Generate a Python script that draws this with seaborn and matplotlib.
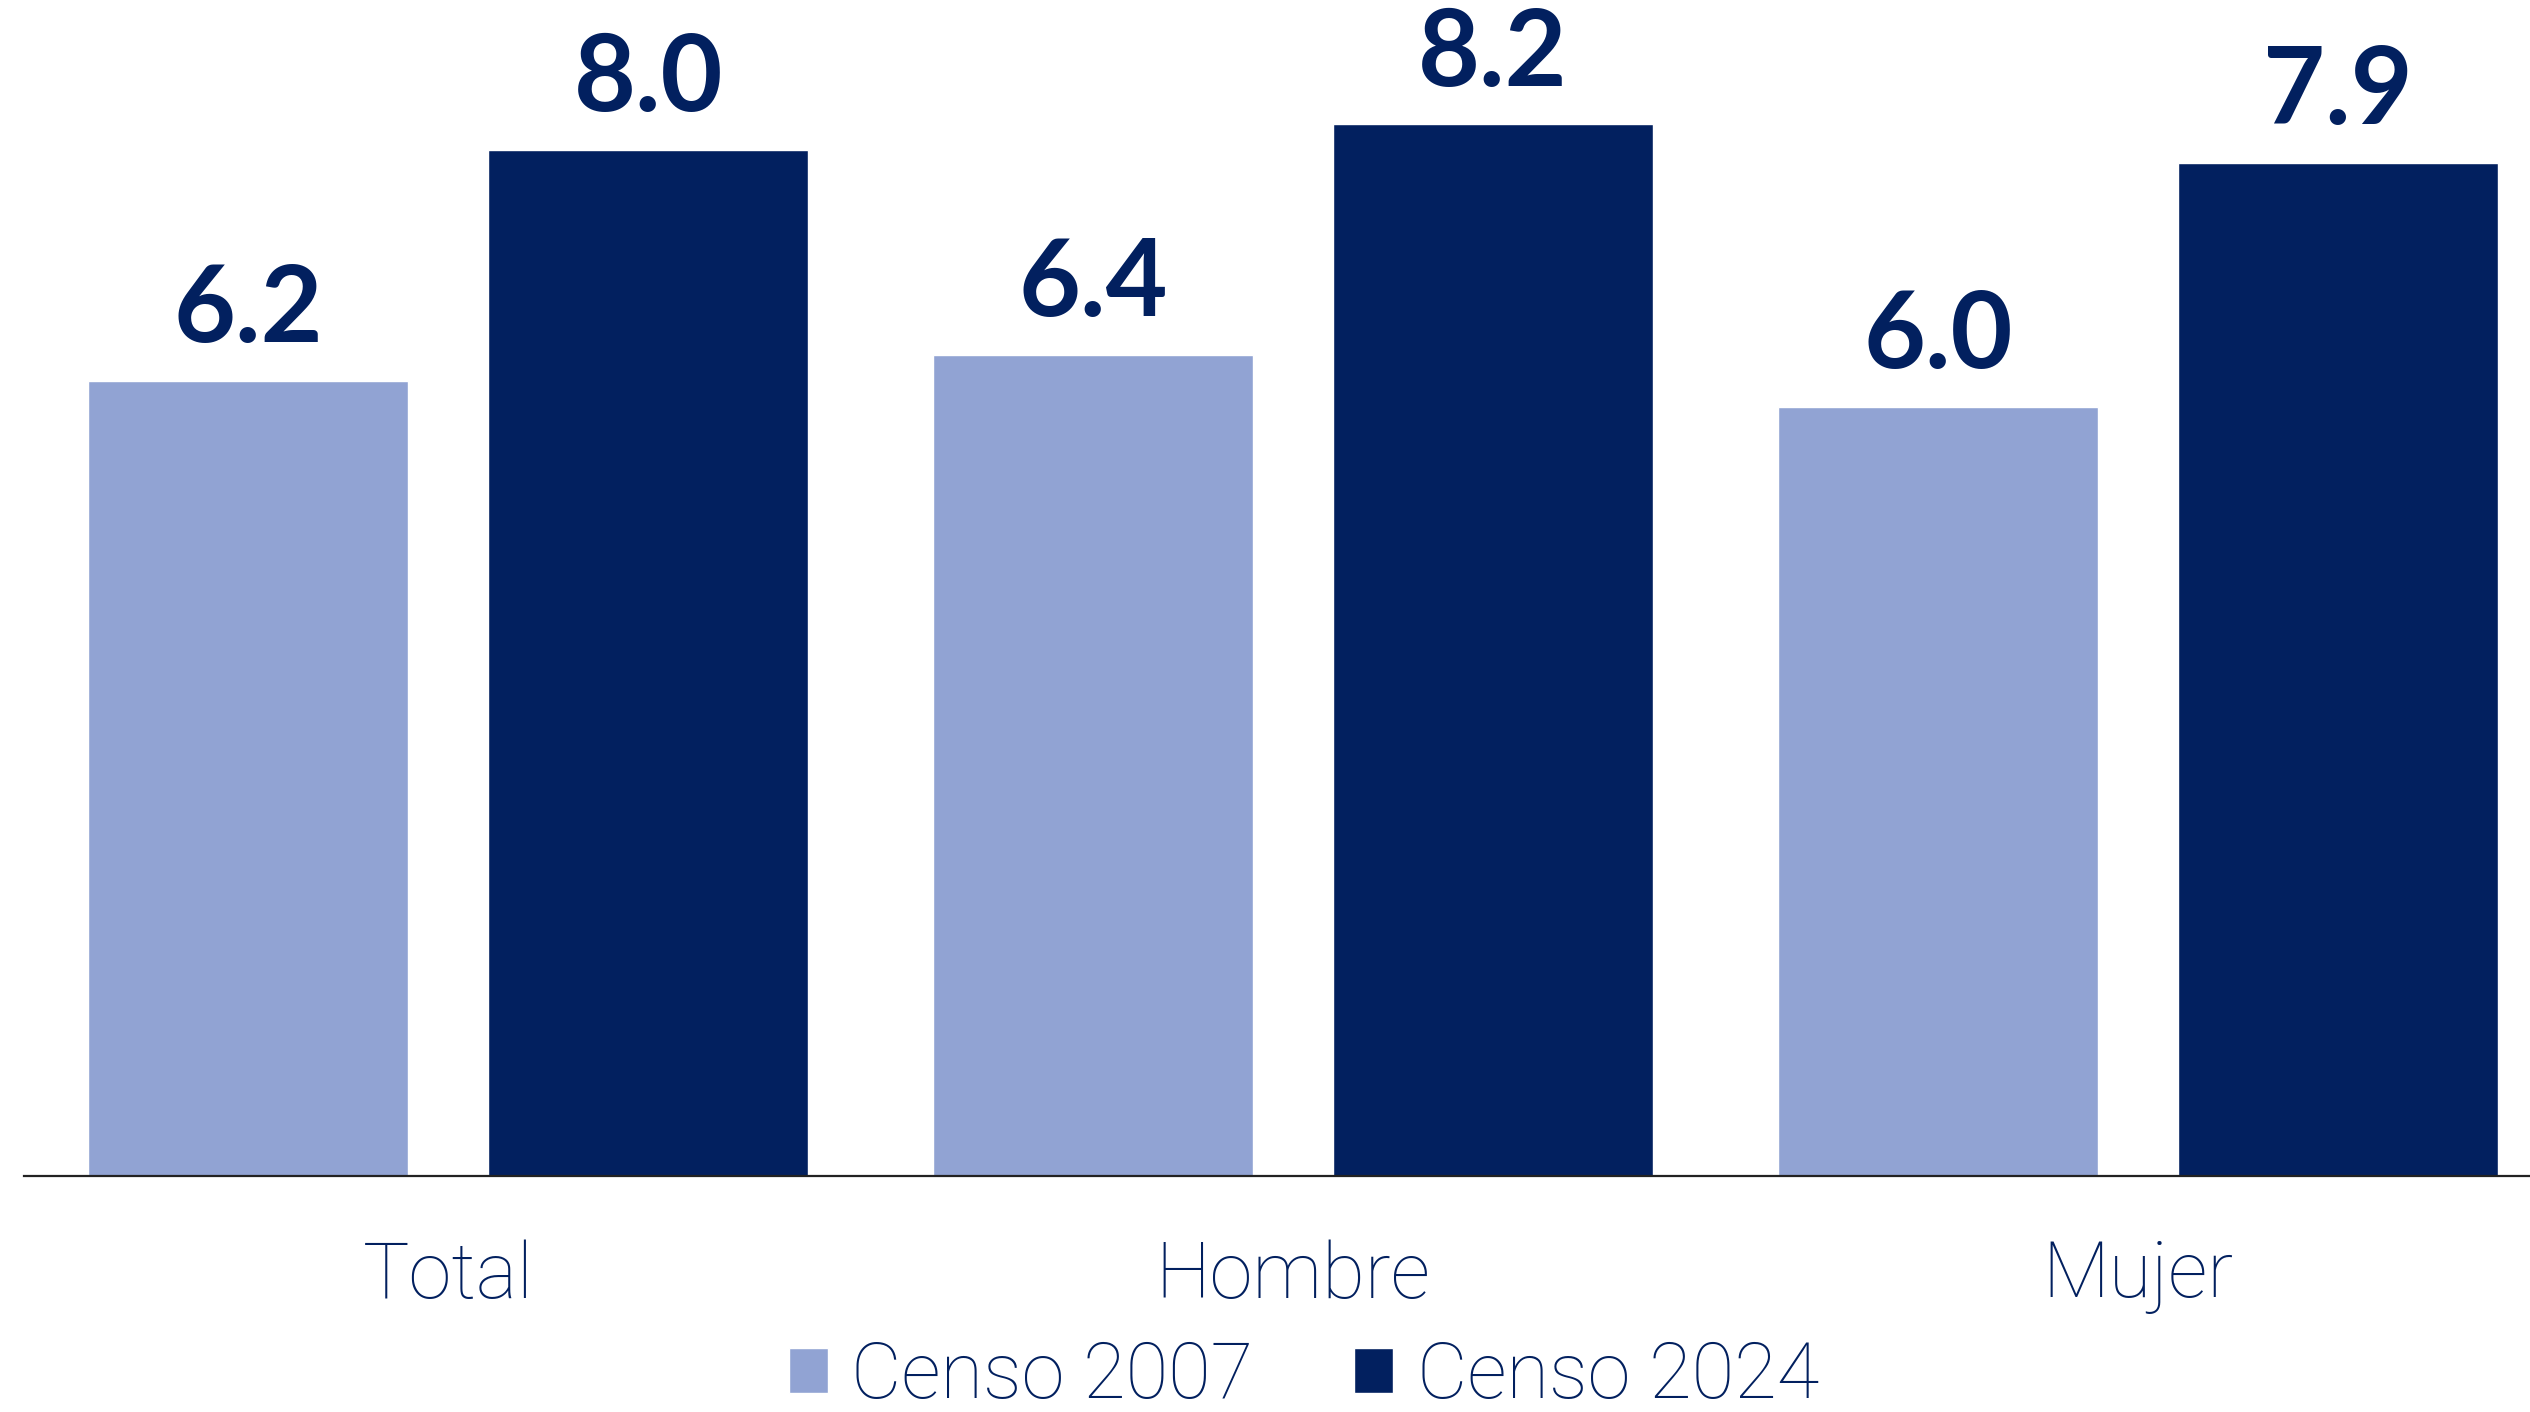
import pandas as pd
import matplotlib
matplotlib.use("Agg")
import matplotlib.pyplot as plt
import seaborn as sns

# datos
categorias = ["Total", "Hombre", "Mujer"]
series = ["Censo 2007", "Censo 2024"]
valores_2007 = [6.2, 6.4, 6.0]
valores_2024 = [8.0, 8.2, 7.9]

colores = ["#91A3D3", "#02205F"]
texto = "#02205F"

df = pd.DataFrame({
    "categoria": categorias * 2,
    "censo": [series[0]] * 3 + [series[1]] * 3,
    "valor": valores_2007 + valores_2024,
})

sns.set_style("white")
plt.rcParams["font.family"] = ["Lato", "DejaVu Sans"]
fuente_fina = ["Roboto", "DejaVu Sans"]

W, H = 2530, 1412
fig = plt.figure(figsize=(W / 100, H / 100), dpi=100)
ax = fig.add_axes([24 / W, (H - 1176) / H, (W - 24) / W, 1176 / H])

sns.barplot(data=df, x="categoria", y="valor", hue="censo", order=categorias,
            hue_order=series, palette=colores, width=0.947, gap=0.2,
            saturation=1, ax=ax, legend=True)

# etiquetas de valor
for cont in ax.containers:
    ax.bar_label(cont, fmt="%.1f", padding=15, fontsize=77,
                 fontweight="bold", color=texto)

ax.set_ylim(0, 9.17)
ax.set_xlim(-0.502, 2.464)
ax.set_xlabel("")
ax.set_ylabel("")
ax.set_yticks([])
ax.tick_params(axis="x", length=0, pad=46, labelsize=56, labelcolor=texto)
for lbl in ax.get_xticklabels():
    lbl.set_family(fuente_fina)
    lbl.set_fontweight("light")

for s in ["top", "right", "left"]:
    ax.spines[s].set_visible(False)
ax.spines["bottom"].set_color("#222222")
ax.spines["bottom"].set_linewidth(1.6)

# leyenda
handles, labels = ax.get_legend_handles_labels()
ax.get_legend().remove()
leg = fig.legend(handles, labels, loc="center", bbox_to_anchor=(1304 / W, 1 - 1377 / H),
                 ncol=2, frameon=False, fontsize=56, handlelength=0.5,
                 handleheight=0.5, handletextpad=0.3, columnspacing=1.3,
                 borderaxespad=0, borderpad=0)
for t in leg.get_texts():
    t.set_color(texto)
    t.set_family(fuente_fina)
    t.set_fontweight("light")

fig.savefig("out.png", dpi=100)
plt.close(fig)
